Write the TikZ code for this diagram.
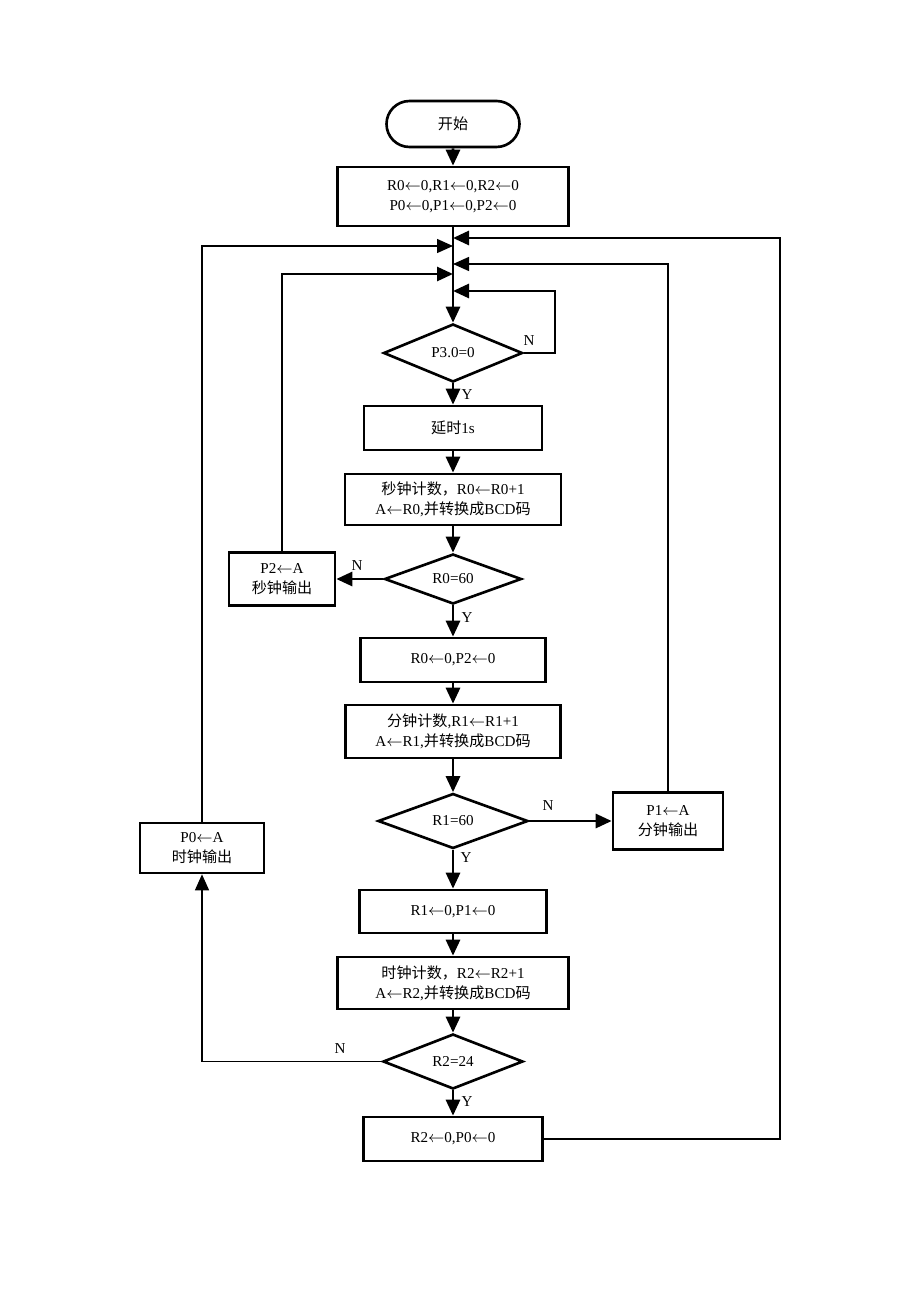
\documentclass[tikz,border=0pt]{standalone}
\usepackage{fontspec}
\setmainfont{Liberation Serif}
\newfontfamily\cjk{Noto Sans CJK SC}
\usetikzlibrary{shapes.geometric,shapes.misc,arrows.meta}
\newcommand{\lto}{\ensuremath{\leftarrow}}
\begin{document}
\begin{tikzpicture}[>={Triangle[length=0.32cm,width=0.28cm]},
	box/.style={draw,line width=1.5pt,align=center,inner sep=0pt},
	cond/.style={diamond,draw,line width=1.5pt,inner sep=0pt,shape aspect=2.7},
	flow/.style={line width=1.6pt},
	back/.style={line width=0.8pt},
	font=\fontsize{8.6}{11.5}\selectfont]
	\useasboundingbox (0,0) rectangle (18.4,-26.04);
	% main column
	\node[box,rounded rectangle,minimum width=2.66cm,minimum height=0.92cm] (start) at (9.06,-2.48) {\cjk 开始};
	\node[box,minimum width=4.62cm,minimum height=1.18cm] (init) at (9.06,-3.93) {R0\lto0,R1\lto0,R2\lto0\\P0\lto0,P1\lto0,P2\lto0};
	\coordinate (m1) at (9.06,-4.76);
	\coordinate (m2) at (9.06,-4.92);
	\coordinate (m3) at (9.06,-5.28);
	\coordinate (m4) at (9.06,-5.48);
	\coordinate (m5) at (9.06,-5.82);
	\node[cond,minimum width=2.78cm,minimum height=1.16cm] (wait) at (9.06,-7.06) {P3.0=0};
	\node[box,minimum width=3.56cm,minimum height=0.88cm] (delay) at (9.06,-8.56) {{\cjk 延时}1s};
	\node[box,minimum width=4.32cm,minimum height=1.02cm] (cnts) at (9.06,-9.99) {{\cjk 秒钟计数，}R0\lto R0+1\\A\lto R0,{\cjk 并转换成}BCD{\cjk 码}};
	\node[cond,minimum width=2.74cm,minimum height=1.0cm] (ds) at (9.06,-11.58) {R0=60};
	\node[box,minimum width=2.12cm,minimum height=1.06cm] (outs) at (5.64,-11.58) {P2\lto A\\{\cjk 秒钟输出}};
	\node[box,minimum width=3.7cm,minimum height=0.88cm] (clrs) at (9.06,-13.2) {R0\lto0,P2\lto0};
	\node[box,minimum width=4.3cm,minimum height=1.06cm] (cntm) at (9.06,-14.63) {{\cjk 分钟计数}{,}R1\lto R1+1\\A\lto R1,{\cjk 并转换成}BCD{\cjk 码}};
	\node[cond,minimum width=3.0cm,minimum height=1.1cm] (dm) at (9.06,-16.42) {R1=60};
	\node[box,minimum width=2.2cm,minimum height=1.14cm] (outm) at (13.36,-16.42) {P1\lto A\\{\cjk 分钟输出}};
	\node[box,minimum width=2.48cm,minimum height=1.0cm] (outh) at (4.04,-16.96) {P0\lto A\\{\cjk 时钟输出}};
	\node[box,minimum width=3.74cm,minimum height=0.86cm] (clrm) at (9.06,-18.23) {R1\lto0,P1\lto0};
	\node[box,minimum width=4.62cm,minimum height=1.04cm] (cnth) at (9.06,-19.66) {{\cjk 时钟计数，}R2\lto R2+1\\A\lto R2,{\cjk 并转换成}BCD{\cjk 码}};
	\node[cond,minimum width=2.8cm,minimum height=1.1cm] (dh) at (9.06,-21.23) {R2=24};
	\node[box,minimum width=3.58cm,minimum height=0.88cm] (clrh) at (9.06,-22.78) {R2\lto0,P0\lto0};
	\coordinate (cw) at (11.1,-5.82);
	\coordinate (cr) at (15.6,-4.76);
	% labels
	\node (nw) at (10.58,-6.82) {N};
	\node (yw) at (9.34,-7.9) {Y};
	\node (ns) at (7.14,-11.32) {N};
	\node (ys) at (9.34,-12.36) {Y};
	\node (nm) at (10.96,-16.12) {N};
	\node (ym) at (9.32,-17.16) {Y};
	\node (nh) at (6.8,-20.98) {N};
	\node (yh) at (9.34,-22.04) {Y};
	% connectors
	\draw[flow,->] (start) -- (init);
	\draw[flow,->] (init) -- (wait);
	\draw[flow,->] (wait.east) -| (cw) -- (m5);
	\draw[flow,->] (wait) -- (delay);
	\draw[flow,->] (delay) -- (cnts);
	\draw[flow,->] (cnts) -- (ds);
	\draw[flow,->] (ds.west) -- (outs.east);
	\draw[flow,->] (outs.north) |- (m4);
	\draw[flow,->] (ds) -- (clrs);
	\draw[flow,->] (clrs) -- (cntm);
	\draw[flow,->] (cntm) -- (dm);
	\draw[flow,->] (dm.east) -- (outm.west);
	\draw[back,->] (outm.north) |- (m3);
	\draw[flow,->] (dm) -- (clrm);
	\draw[flow,->] (clrm) -- (cnth);
	\draw[flow,->] (cnth) -- (dh);
	\draw[back,->] (dh.west) -| (outh.south);
	\draw[back,->] (outh.north) |- (m2);
	\draw[flow,->] (dh) -- (clrh);
	\draw[flow,->] (clrh.east) -| (cr) -- (m1);
\end{tikzpicture}
\end{document}
